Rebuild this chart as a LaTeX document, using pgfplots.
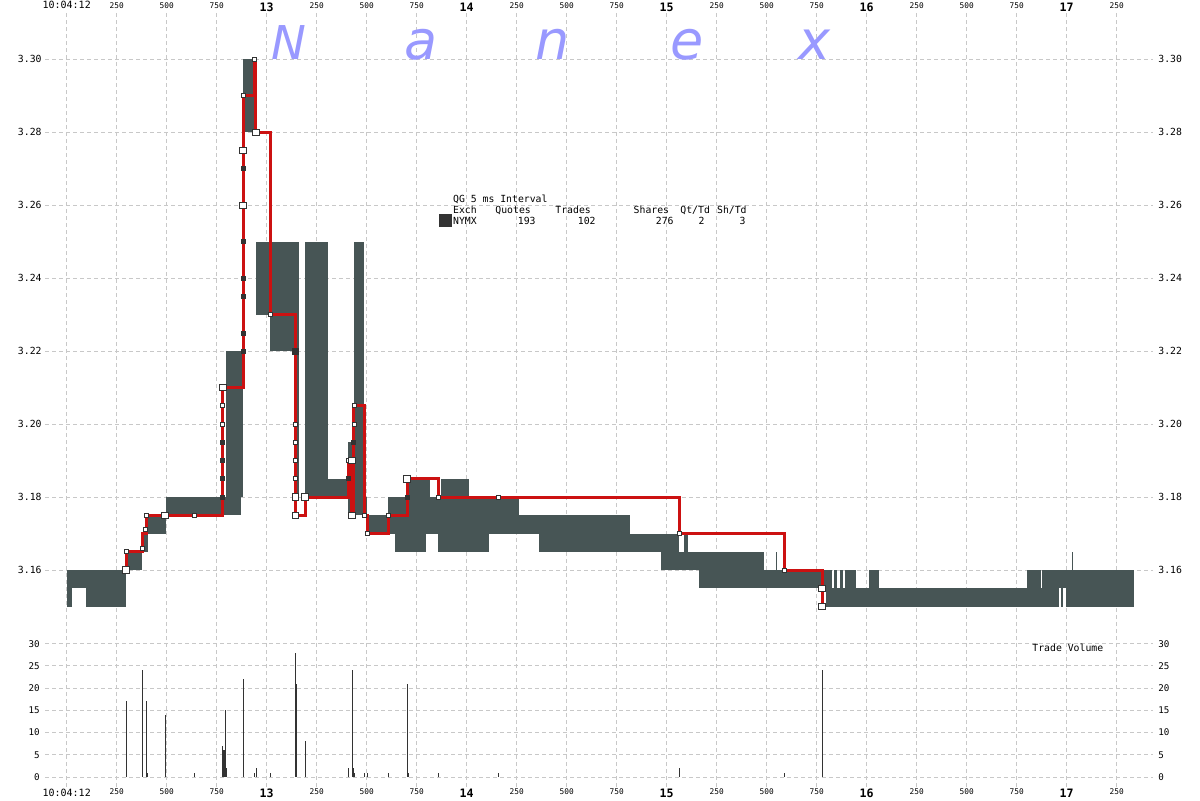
\documentclass[border=0pt]{standalone}
\usepackage{pgfplots}
\pgfplotsset{compat=1.18}
\usepackage{fontspec}
\setmainfont{DejaVu Sans}
\setmonofont{DejaVu Sans Mono}
\definecolor{qgray}{RGB}{71,85,85}
\definecolor{tred}{RGB}{204,17,17}
\definecolor{gridc}{RGB}{200,200,200}
\definecolor{dk}{RGB}{51,51,51}
\definecolor{wm}{RGB}{153,153,255}
\newcommand\qb[4]{\addplot[fill=qgray,draw=none] coordinates {(#1,#3) (#2,#3) (#2,#4) (#1,#4)};}
\newcommand\tB[1]{{\fontsize{5.8}{6}\selectfont\bfseries\raisebox{-1.1pt}[\height][0pt]{#1}}}
\newcommand\tC[1]{{\fontsize{5.8}{6}\selectfont\bfseries #1}}
\newcommand\tT[1]{{\fontsize{5}{6}\selectfont #1}}
\pgfplotsset{
  base/.style={scale only axis, width=554pt, xmin=-108.5, xmax=5431.5,
    axis line style={draw=none}, major tick length=0pt, minor tick length=0pt,
    tick style={draw=none},
    /pgf/number format/assume math mode=true,
    tick label style={inner sep=0pt},
    xticklabel style={font=\ttfamily\fontsize{3.9}{4}\selectfont},
    grid style={gridc, dash pattern=on 2pt off 1.5pt, line width=0.5pt},
    xtick={0,250,...,5250},
  },
  price/.style={base, at={(22.5pt,-6pt)}, anchor=north west, height=387.5pt,
    ymin=3.10052, ymax=3.312966,
    ytick={3.16,3.18,3.20,3.22,3.24,3.26,3.28,3.30},
    yticklabel style={font=\ttfamily\fontsize{4.9}{5}\selectfont,
      /pgf/number format/fixed, /pgf/number format/fixed zerofill, /pgf/number format/precision=2},
  },
  volume/.style={base, at={(22.5pt,-318.5pt)}, anchor=north west, height=75pt,
    ymin=-2.25, ymax=31.51, ytick={0,5,10,15,20,25,30},
    yticklabel style={font=\ttfamily\fontsize{4.6}{5}\selectfont},
  },
}
\begin{document}
\begin{tikzpicture}
% ---------------- price panel ----------------
\begin{axis}[price, xticklabel pos=upper, xticklabel shift=1.3pt, yticklabel shift=1.5pt,
  xticklabels={\tT{10:04:12},250,500,750,\tB{13},250,500,750,\tB{14},250,500,750,\tB{15},250,500,750,\tB{16},250,500,750,\tB{17},250},
  xmajorgrids=true, ymajorgrids=true]
% quotes (bid/ask ranges): start ms, end ms, low, high
\qb{0}{27}{3.150}{3.160}
\qb{27}{97}{3.155}{3.160}
\qb{97}{297}{3.150}{3.160}
\qb{297}{377}{3.160}{3.165}
\qb{377}{407}{3.165}{3.170}
\qb{407}{495}{3.170}{3.175}
\qb{495}{872}{3.175}{3.180}
\qb{797}{882}{3.180}{3.220}
\qb{882}{942}{3.280}{3.300}
\qb{947}{1162}{3.230}{3.250}
\qb{1017}{1162}{3.220}{3.230}
\qb{1150}{1162}{3.180}{3.220}
\qb{1192}{1307}{3.185}{3.250}
\qb{1192}{1407}{3.180}{3.185}
\qb{1407}{1437}{3.175}{3.195}
\qb{1437}{1487}{3.175}{3.250}
\qb{1487}{1502}{3.175}{3.180}
\qb{1502}{1607}{3.170}{3.175}
\qb{1607}{2262}{3.175}{3.180}
\qb{1607}{2817}{3.170}{3.175}
\qb{1642}{1797}{3.165}{3.170}
\qb{1702}{1817}{3.180}{3.185}
\qb{1872}{2012}{3.180}{3.185}
\qb{1857}{2112}{3.165}{3.170}
\qb{2362}{3062}{3.165}{3.170}
\qb{3087}{3107}{3.165}{3.170}
\qb{2972}{3487}{3.160}{3.165}
\qb{3162}{3777}{3.155}{3.160}
\qb{3545}{3550}{3.160}{3.165}
\qb{3777}{3827}{3.155}{3.160}
\qb{3837}{3852}{3.155}{3.160}
\qb{3867}{3882}{3.155}{3.160}
\qb{3892}{3947}{3.155}{3.160}
\qb{4012}{4062}{3.155}{3.160}
\qb{4802}{4872}{3.155}{3.160}
\qb{4877}{5337}{3.155}{3.160}
\qb{3797}{4962}{3.150}{3.155}
\qb{4972}{4982}{3.150}{3.155}
\qb{4997}{5337}{3.150}{3.155}
\qb{5025}{5030}{3.160}{3.165}
% trades (step line)
\addplot[tred, line width=1.5pt, line join=miter] coordinates {
 (297,3.160) (297,3.165) (377,3.165) (377,3.170) (397,3.170) (397,3.175)
 (779,3.175) (779,3.210) (882,3.210) (882,3.290) (937,3.290) (937,3.300)
 (945,3.300) (945,3.280) (1017,3.280) (1017,3.230) (1144,3.230) (1144,3.175)
 (1192,3.175) (1192,3.180) (1407,3.180) (1407,3.190) (1425,3.190) (1425,3.175)
 (1433,3.175) (1433,3.205) (1487,3.205) (1487,3.175) (1502,3.175) (1502,3.170)
 (1607,3.170) (1607,3.175) (1702,3.175) (1702,3.185) (1857,3.185) (1857,3.180)
 (3062,3.180) (3062,3.170) (3587,3.170) (3587,3.160) (3777,3.160) (3777,3.150)};
% trade markers
\addplot[only marks, mark=square*, mark size=1pt, mark options={fill=dk, draw=dk, line width=0.4pt}] coordinates {
 (779,3.195) (779,3.19) (779,3.185) (779,3.18) (882,3.27) (882,3.25) (882,3.24)
 (882,3.235) (882,3.225) (882,3.22) (1407,3.185) (1702,3.18) (1433,3.195)};
\addplot[only marks, mark=square*, mark size=1.6pt, mark options={fill=dk, draw=dk}] coordinates {
 (1144,3.22)};
\addplot[only marks, mark=square*, mark size=1pt, mark options={fill=white, draw=dk, line width=0.5pt}] coordinates {
 (297,3.165) (377,3.166) (395,3.171) (400,3.175) (637,3.175) (779,3.205) (779,3.20)
 (882,3.29) (937,3.30) (1017,3.23) (1144,3.20) (1144,3.195)
 (1144,3.19) (1144,3.185) (1407,3.19) (1437,3.20) (1437,3.205)
 (1487,3.175) (1502,3.17) (1607,3.175) (1857,3.18) (2157,3.18) (3062,3.17) (3587,3.16)};
\addplot[only marks, mark=square*, mark size=1.6pt, mark options={fill=white, draw=dk, line width=0.5pt}] coordinates {
 (297,3.160) (492,3.175) (781,3.21) (882,3.275) (882,3.26) (947,3.28) (1144,3.18) (1144,3.175)
 (1192,3.18) (1427,3.19) (1427,3.175) (1702,3.185) (3777,3.155) (3777,3.15)};
\end{axis}
% right-hand price labels
\begin{axis}[price, xtick=\empty, yticklabel pos=right, yticklabel shift=2.5pt]
\end{axis}
% ---------------- volume panel ----------------
\begin{axis}[volume, xticklabel pos=lower, xticklabel shift=0.8pt, yticklabel shift=2.5pt,
  xticklabels={\tT{10:04:12},250,500,750,\tC{13},250,500,750,\tC{14},250,500,750,\tC{15},250,500,750,\tC{16},250,500,750,\tC{17},250},
  ymajorgrids=true]
\addplot[ycomb, draw=dk, line width=0.5pt] coordinates {
 (298,17) (378,24) (398,17) (403,1) (495,14) (638,1) (778,7) (783,6) (788,6)
 (793,15) (798,2) (883,22) (938,1) (948,2) (1018,1) (1143,28) (1148,21) (1193,8)
 (1408,2) (1428,24) (1433,2) (1438,1) (1488,1) (1503,1) (1608,1) (1703,21)
 (1708,1) (1860,1) (2158,1) (3063,2) (3588,1) (3778,24)};
\end{axis}
\begin{axis}[volume, xtick=\empty, yticklabel pos=right, yticklabel shift=2.5pt]
\end{axis}
% ---------------- annotations (pixel coordinates) ----------------
\begin{scope}[x=0.5pt, y=-0.5pt]
 \node[anchor=base west, inner sep=0pt, text=wm, font=\fontsize{23.3}{24}\selectfont\itshape] at (271,59.5) {N};
 \node[anchor=base west, inner sep=0pt, text=wm, font=\fontsize{27}{28}\selectfont\itshape] at (404,59.5) {a};
 \node[anchor=base west, inner sep=0pt, text=wm, font=\fontsize{27}{28}\selectfont\itshape] at (535,59.5) {n};
 \node[anchor=base west, inner sep=0pt, text=wm, font=\fontsize{27}{28}\selectfont\itshape] at (670,59.5) {e};
 \node[anchor=base west, inner sep=0pt, text=wm, font=\fontsize{27}{28}\selectfont\itshape] at (798,59.5) {x};
 \begin{scope}[every node/.style={inner sep=0pt, font=\ttfamily\fontsize{4.9}{5}\selectfont}]
  \node[anchor=base west] at (452.7,202.7) {QG 5 ms Interval};
  \node[anchor=base west] at (452.7,213.5) {Exch};
  \node[anchor=base west] at (495,213.5) {Quotes};
  \node[anchor=base west] at (555,213.5) {Trades};
  \node[anchor=base west] at (633.3,213.5) {Shares};
  \node[anchor=base west] at (680,213.5) {Qt/Td};
  \node[anchor=base west] at (716.7,213.5) {Sh/Td};
  \node[anchor=base west] at (452.7,224.5) {NYMX};
  \node[anchor=base east] at (536,224.5) {193};
  \node[anchor=base east] at (596,224.5) {102};
  \node[anchor=base east] at (674,224.5) {276};
  \node[anchor=base east] at (705,224.5) {2};
  \node[anchor=base east] at (746,224.5) {3};
  \node[anchor=base west] at (1032,651) {Trade Volume};
 \end{scope}
 \fill[dk] (439,214) rectangle (452,227);
\end{scope}
\pgfresetboundingbox
\path[use as bounding box] (0,0) rectangle (600pt,-400pt);
\end{tikzpicture}
\end{document}
